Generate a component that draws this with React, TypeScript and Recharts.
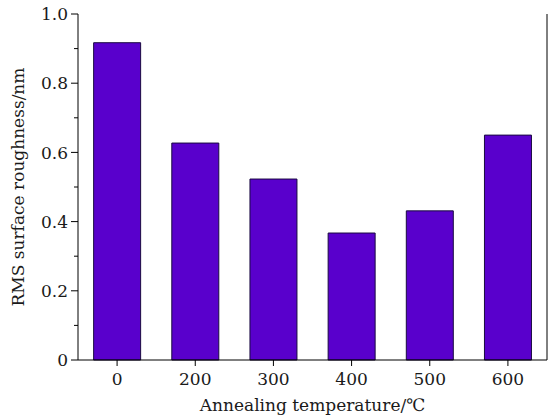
import { BarChart, Bar, XAxis, YAxis } from "recharts";

const TEMPS = ["0", "200", "300", "400", "500", "600"];
const ROUGHNESS = [0.917, 0.627, 0.523, 0.367, 0.431, 0.65];
const Y_MAJOR = [0, 0.2, 0.4, 0.6, 0.8, 1.0];
const Y_MINOR = [0.1, 0.3, 0.5, 0.7, 0.9];
const Y_TICKS = [...Y_MAJOR, ...Y_MINOR].sort((a, b) => a - b);

const FONT = "'DejaVu Serif', 'Liberation Serif', serif";
const FONT_SIZE = 17;
const BAR_FILL = "#5900cc";

const data = TEMPS.map((t, i) => ({ temp: t, value: ROUGHNESS[i] }));

const isMajor = (v: number) => Y_MAJOR.some((m) => Math.abs(m - v) < 1e-6);
const fmt = (v: number) => (v === 0 ? "0" : v.toFixed(1));

function LeftTick(props: any) {
  const { x, y, payload } = props;
  const major = isMajor(payload.value);
  return (
    <g>
      <line x1={x - (major ? 7 : 4)} x2={x} y1={y} y2={y} stroke="#000" strokeWidth={1} />
      {major && (
        <text x={x - 10} y={y} dy="0.36em" textAnchor="end" fontFamily={FONT} fontSize={FONT_SIZE} fill="#1a1a1a">
          {fmt(payload.value)}
        </text>
      )}
    </g>
  );
}

function RightTick(props: any) {
  const { x, y, payload } = props;
  const major = isMajor(payload.value);
  return <line x1={x - (major ? 4 : 2)} x2={x} y1={y} y2={y} stroke="#333" strokeWidth={1} />;
}

function BottomTick(props: any) {
  const { x, y, payload } = props;
  return (
    <g>
      <line x1={x} x2={x} y1={y} y2={y + 6} stroke="#000" strokeWidth={1} />
      <text x={x} y={y + 19} dy="0.36em" textAnchor="middle" fontFamily={FONT} fontSize={FONT_SIZE} fill="#1a1a1a">
        {payload.value}
      </text>
    </g>
  );
}

function TopTick(props: any) {
  const { x, y } = props;
  return <line x1={x} x2={x} y1={y} y2={y + 3} stroke="#333" strokeWidth={1} />;
}

export default function App() {
  return (
    <div style={{ position: "absolute", left: 0, top: 0, background: "#fff" }}>
      <BarChart
        width={548}
        height={418}
        data={data}
        margin={{ top: 14, right: 0, left: 0, bottom: 0 }}
        barCategoryGap="20%"
      >
        <XAxis
          dataKey="temp"
          height={58}
          axisLine={{ stroke: "#000", strokeWidth: 1 }}
          tickLine={false}
          tickSize={0}
          tickMargin={0}
          tick={<BottomTick />}
          interval={0}
          label={{
            value: "Annealing temperature/℃",
            position: "insideBottom",
            offset: 7,
            style: { fontFamily: FONT, fontSize: FONT_SIZE, fill: "#1a1a1a" },
          }}
        />
        <XAxis
          xAxisId="top"
          dataKey="temp"
          orientation="top"
          height={0}
          axisLine={{ stroke: "#000", strokeWidth: 1 }}
          tickLine={false}
          tickSize={0}
          tickMargin={0}
          tick={<TopTick />}
          interval={0}
        />
        <YAxis
          width={78}
          domain={[0, 1]}
          ticks={Y_TICKS}
          interval={0}
          axisLine={{ stroke: "#000", strokeWidth: 1 }}
          tickLine={false}
          tickSize={0}
          tickMargin={0}
          tick={<LeftTick />}
          label={{
            value: "RMS surface roughness/nm",
            angle: -90,
            position: "insideLeft",
            offset: 18,
            style: { fontFamily: FONT, fontSize: FONT_SIZE, fill: "#1a1a1a", textAnchor: "middle" },
          }}
        />
        <YAxis
          yAxisId="right"
          orientation="right"
          width={1}
          domain={[0, 1]}
          ticks={Y_TICKS}
          interval={0}
          axisLine={{ stroke: "#000", strokeWidth: 1 }}
          tickLine={false}
          tickSize={0}
          tickMargin={0}
          tick={<RightTick />}
        />
        <Bar dataKey="value" fill={BAR_FILL} stroke="#1a0a40" strokeWidth={1} isAnimationActive={false} />
      </BarChart>
    </div>
  );
}
